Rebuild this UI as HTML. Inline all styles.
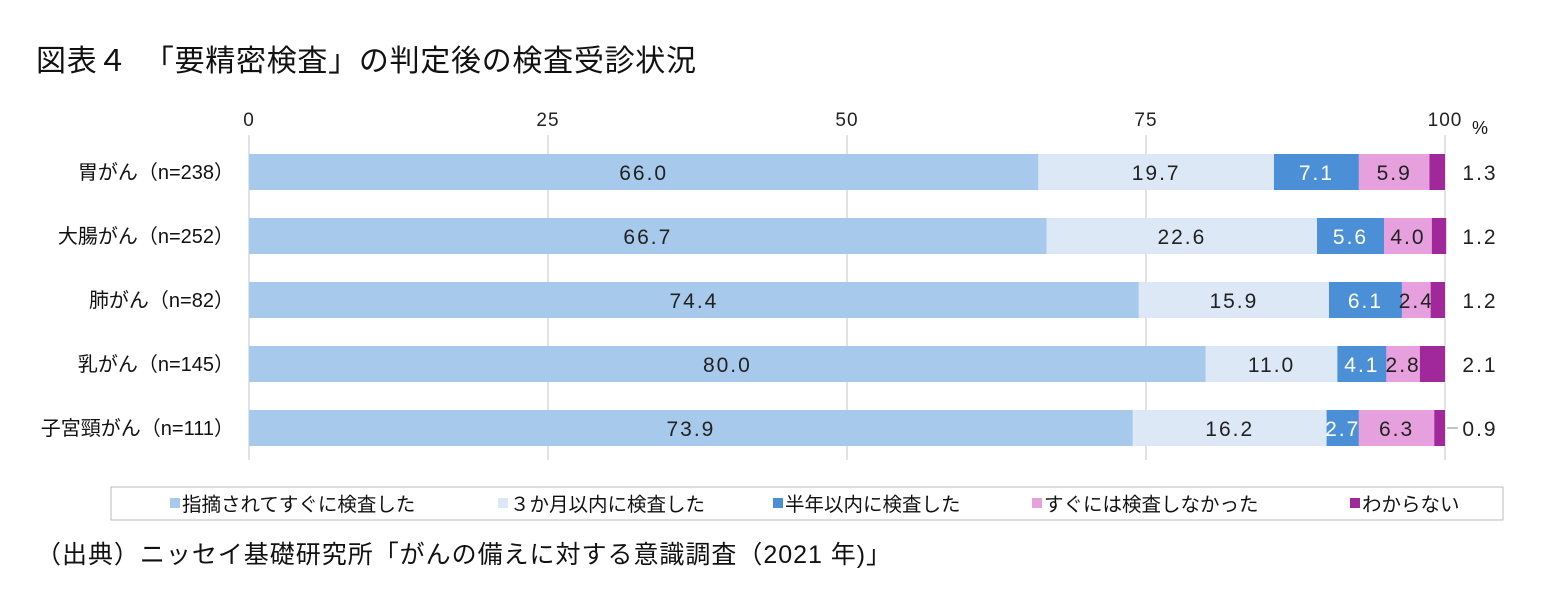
<!DOCTYPE html>
<html><head><meta charset="utf-8"><style>
body{margin:0;background:#fff;width:1543px;height:598px;overflow:hidden;font-family:"Liberation Sans","Noto Sans CJK JP",sans-serif}
svg{position:absolute;left:0;top:0}
</style></head><body>
<svg width="1543" height="598" id="c">
<text x="36" y="71" font-size="30" fill="#111" font-family="Liberation Sans, Noto Sans CJK JP, sans-serif" textLength="660">図表４　「要精密検査」の判定後の検査受診状況</text>
<text x="36" y="563" font-size="25" fill="#111" font-family="Liberation Sans, Noto Sans CJK JP, sans-serif" textLength="855">（出典）ニッセイ基礎研究所「がんの備えに対する意識調査（2021 年)」</text>
<text x="1472" y="134" font-size="18" fill="#111">%</text>
<g id="grid"></g><g id="bars"></g>
<rect x="111" y="487" width="1392" height="33" fill="#fff" stroke="#bbb"/>
<line x1="1447" x2="1458" y1="428" y2="428" stroke="#888"/>
<g id="legend"></g>
</svg>
<script>
const categories=["胃がん（n=238）","大腸がん（n=252）","肺がん（n=82）","乳がん（n=145）","子宮頸がん（n=111）"];
const s1=[66.0,66.7,74.4,80.0,73.9];
const s2=[19.7,22.6,15.9,11.0,16.2];
const s3=[7.1,5.6,6.1,4.1,2.7];
const s4=[5.9,4.0,2.4,2.8,6.3];
const s5=[1.3,1.2,1.2,2.1,0.9];
const ticks=[0,25,50,75,100];
const seriesNames=["指摘されてすぐに検査した","３か月以内に検査した","半年以内に検査した","すぐには検査しなかった","わからない"];
const colors=["#a7c9eb","#dce8f6","#4b8fd7","#e5a0dd","#a1289b"];
const textColors=["#222","#222","#fff","#222","#222"];
const NS="http://www.w3.org/2000/svg";
const x=v=>249+v*11.96;
const yc=i=>172+i*64;
function el(t,a,p){const e=document.createElementNS(NS,t);for(const k in a)e.setAttribute(k,a[k]);p.appendChild(e);return e;}
const grid=document.getElementById('grid'),bars=document.getElementById('bars'),leg=document.getElementById('legend');
ticks.forEach(t=>{
 const l=el('line',{x1:x(t),x2:x(t),y1:135,y2:460,stroke:'#d9d9d9','stroke-width':1.5},grid);
 
 
 const tx=el('text',{x:x(t),y:126,'font-size':19,'text-anchor':'middle',fill:'#222','letter-spacing':1},grid);
 tx.textContent=t;
 
 
});
const all=[s1,s2,s3,s4,s5];
categories.forEach((c,i)=>{
 const lb=el('text',{x:234,y:yc(i)+7,'font-size':20,'text-anchor':'end',fill:'#111'},bars);
 lb.textContent=c;
 
 
 let acc=0;
 all.forEach((s,k)=>{
  const v=s[i];
  const r=el('rect',{x:x(acc),y:yc(i)-18,width:v*11.96,height:36,fill:colors[k]},bars);
  
  
  const t=el('text',{'font-size':21,fill:textColors[k],'letter-spacing':2,y:yc(i)+8},bars);
  if(k<4){t.setAttribute('x',x(acc+v/2));t.setAttribute('text-anchor','middle');}
  else{t.setAttribute('x',1480);t.setAttribute('text-anchor','middle');}
  t.textContent=v.toFixed(1);
  
  
  acc+=v;
 });
});
const lx=[170,498,773,1032,1350];
seriesNames.forEach((n,k)=>{
 const r=el('rect',{x:lx[k],y:498,width:10,height:10,fill:colors[k]},leg);
 
 
 const t=el('text',{x:lx[k]+12,y:511,'font-size':19.5,fill:'#111'},leg);
 t.textContent=n;
 
 
});
</script>
</body></html>
